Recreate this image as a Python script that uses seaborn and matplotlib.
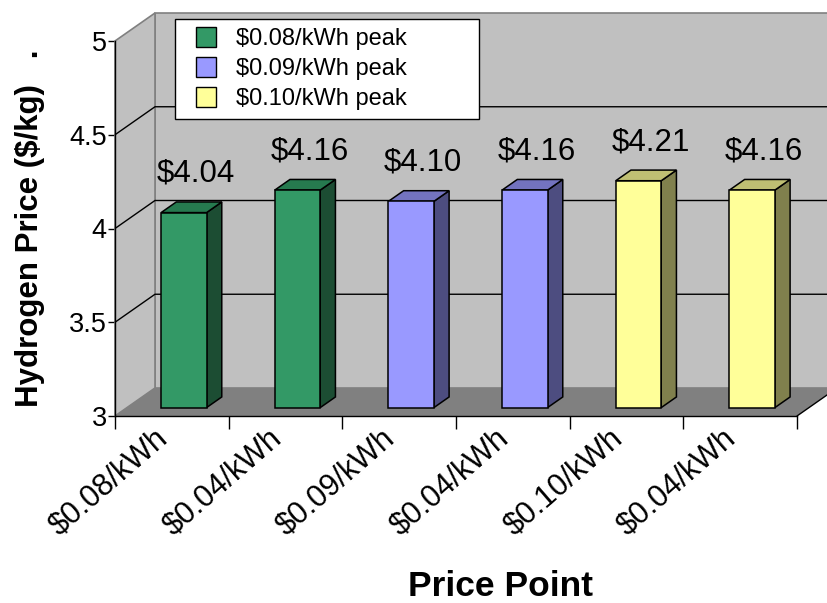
import matplotlib
matplotlib.use("Agg")
import matplotlib.pyplot as plt
from matplotlib.patches import Polygon
from matplotlib.lines import Line2D
from matplotlib.transforms import ScaledTranslation
import seaborn as sns
import pandas as pd
import numpy as np

# ---- data -------------------------------------------------------------
price_points = ["$0.08/kWh", "$0.04/kWh", "$0.09/kWh", "$0.04/kWh", "$0.10/kWh", "$0.04/kWh"]
peak_rates = ["$0.08/kWh peak", "$0.08/kWh peak", "$0.09/kWh peak",
              "$0.09/kWh peak", "$0.10/kWh peak", "$0.10/kWh peak"]
hydrogen_price = [4.04, 4.16, 4.10, 4.16, 4.21, 4.16]
series_names = ["$0.08/kWh peak", "$0.09/kWh peak", "$0.10/kWh peak"]
y_ticks = [3, 3.5, 4, 4.5, 5]
y_tick_labels = ["3", "3.5", "4", "4.5", "5"]

# ---- colours (front face, side face, top face) -------------------------
face_colors = {"$0.08/kWh peak": "#339966", "$0.09/kWh peak": "#9999FF", "$0.10/kWh peak": "#FFFF99"}
side_colors = {"$0.08/kWh peak": "#1C4D33", "$0.09/kWh peak": "#4D4D80", "$0.10/kWh peak": "#80804D"}
top_colors = {"$0.08/kWh peak": "#267A4F", "$0.09/kWh peak": "#7373BF", "$0.10/kWh peak": "#BFBF73"}
WALL = "#C0C0C0"
FLOOR = "#808080"
EDGE = "#808080"

sns.set_theme(style="white")
plt.rcParams["font.family"] = ["Liberation Sans", "DejaVu Sans"]
plt.rcParams["text.color"] = "black"
plt.rcParams["axes.labelcolor"] = "black"
plt.rcParams["xtick.color"] = "black"
plt.rcParams["ytick.color"] = "black"

W, H = 827, 603
fig = plt.figure(figsize=(W / 100, H / 100), dpi=100)
ax = fig.add_axes([115 / W, 1 - 416 / H, 682 / W, 375 / H])
ax.patch.set_visible(False)

df = pd.DataFrame({"slot": range(len(hydrogen_price)), "peak": peak_rates, "price": hydrogen_price})
sns.barplot(data=df, x="slot", y="price", hue="peak", hue_order=series_names,
            palette=face_colors, saturation=1, dodge=False, width=0.4, edgecolor="black",
            linewidth=1.1, legend=False, ax=ax, zorder=6)
ax.set_xlim(-0.5, len(hydrogen_price) - 0.5)
ax.set_ylim(3, 5)
bars = list(ax.patches)


def depth(frac):
    """Data-space offset of a point pushed back by `frac` of the box depth."""
    x0, y0 = ax.transData.transform((0, 3))
    x1, y1 = ax.transData.inverted().transform((x0 + 40 * frac, y0 + 28 * frac))
    return x1, y1 - 3


Dx, Dy = depth(1.0)
x_lo, x_hi = -0.5, len(hydrogen_price) - 0.5

# back wall and side wall
ax.add_patch(Polygon([(x_lo + Dx, 3 + Dy), (x_hi + Dx, 3 + Dy), (x_hi + Dx, 5 + Dy), (x_lo + Dx, 5 + Dy)],
                     closed=True, fc=WALL, ec=EDGE, lw=1.2, zorder=0.5, clip_on=False))
ax.add_patch(Polygon([(x_lo, 3), (x_lo + Dx, 3 + Dy), (x_lo + Dx, 5 + Dy), (x_lo, 5)],
                     closed=True, fc=WALL, ec=EDGE, lw=1.2, zorder=0.6, clip_on=False))

# gridlines running across the side wall and the back wall
for yv in y_ticks[1:-1]:
    ax.plot([x_lo, x_lo + Dx, x_hi + Dx], [yv, yv + Dy, yv + Dy], color="black", lw=1.0,
            zorder=1, clip_on=False, solid_capstyle="butt")

# floor
ax.add_patch(Polygon([(x_lo, 3), (x_hi, 3), (x_hi + Dx, 3 + Dy), (x_lo + Dx, 3 + Dy)],
                     closed=True, fc=FLOOR, ec="none", zorder=2, clip_on=False))
ax.plot([x_hi, x_hi + Dx], [3, 3 + Dy], color="black", lw=1.0, zorder=2.1, clip_on=False)

# extrude each bar into a box
fx, fy = depth(0.3)
bx, by = depth(0.68)
for p in bars:
    x, w, v = p.get_x(), p.get_width(), p.get_height()
    slot = int(round(x + w / 2))
    peak = peak_rates[slot]
    p.set_x(x + fx)
    p.set_y(3 + fy)
    p.set_height(v - 3)
    xr = x + w
    ax.add_patch(Polygon([(xr + fx, 3 + fy), (xr + bx, 3 + by), (xr + bx, v + by), (xr + fx, v + fy)],
                         closed=True, fc=side_colors[peak], ec="black", lw=1.1, zorder=5, clip_on=False))
    ax.add_patch(Polygon([(x + fx, v + fy), (xr + fx, v + fy), (xr + bx, v + by), (x + bx, v + by)],
                         closed=True, fc=top_colors[peak], ec="black", lw=1.1, zorder=5, clip_on=False))
    ax.annotate(f"${v:.2f}", (slot, v), xytext=(24, 39), textcoords="offset pixels",
                ha="center", va="baseline", fontsize=22.5, color="black", zorder=8,
                annotation_clip=False)

# axes, ticks, labels
for side in ("top", "right"):
    ax.spines[side].set_visible(False)
for side in ("left", "bottom"):
    ax.spines[side].set_color("black")
    ax.spines[side].set_linewidth(1.0)
    ax.spines[side].set_zorder(3)

ax.set_yticks(y_ticks, y_tick_labels)
ax.tick_params(axis="y", left=True, length=5, width=1, color="black", pad=1,
               labelsize=19.5, labelcolor="black")
ax.set_xticks(range(len(price_points)), price_points, rotation=41, ha="right",
              va="center", rotation_mode="anchor")
ax.set_xticks(np.arange(x_lo, x_hi + 0.01, 1.0), minor=True)
ax.tick_params(axis="x", which="major", bottom=False, length=0, pad=13,
               labelsize=22, labelcolor="black")
ax.tick_params(axis="x", which="minor", bottom=True, length=9, width=1, color="black")
shift = ScaledTranslation(-8 / 100, 0, fig.dpi_scale_trans)
for lab in ax.get_xticklabels():
    lab.set_transform(lab.get_transform() + shift)

ax.set_xlabel("")
ax.set_ylabel("Hydrogen Price ($/kg)   .", fontsize=22.5, fontweight="bold", labelpad=17)
fig.text(500 / W, 1 - 587 / H, "Price Point", ha="center", va="center",
         fontsize=25.5, fontweight="bold")

# legend
handles = [Line2D([], [], ls="none", marker="s", markersize=15, markerfacecolor=face_colors[s],
                  markeredgecolor="black", markeredgewidth=1.0) for s in series_names]
fig.legend(handles, series_names, loc="upper left",
           bbox_to_anchor=(175 / W, 1 - 122 / H, 304 / W, 103 / H), mode="expand",
           borderaxespad=0, fontsize=17, frameon=True, fancybox=False, framealpha=1,
           edgecolor="black", facecolor="white", borderpad=0.4, labelspacing=0.33,
           handlelength=1.85, handletextpad=0.35)
fig.legends[0].get_frame().set_linewidth(1.0)

fig.savefig("out.png", dpi=100, facecolor="white")
